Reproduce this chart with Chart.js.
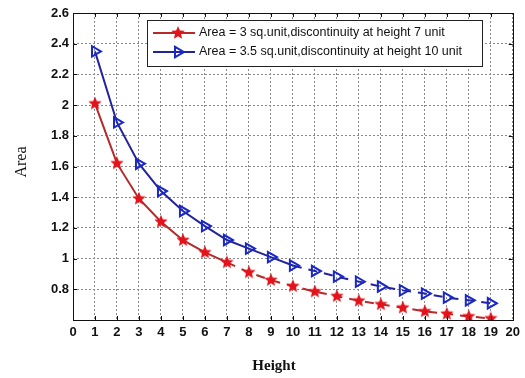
<!DOCTYPE html>
<html>
<head>
<meta charset="utf-8">
<script src="https://cdn.jsdelivr.net/npm/chart.js@4.4.0/dist/chart.umd.min.js"></script>
<style>
	html, body { margin: 0; padding: 0; background: #fff; }
	#wrap { width: 525px; height: 378px; }
</style>
</head>
<body>
<div id="wrap"><canvas id="areaChart" width="525" height="378"></canvas></div>
<script>
const heights = [1, 2, 3, 4, 5, 6, 7, 8, 9, 10, 11, 12, 13, 14, 15, 16, 17, 18, 19];
const area3 = [2.01, 1.62, 1.39, 1.24, 1.12, 1.04, 0.975, 0.91, 0.86, 0.82, 0.785, 0.755, 0.725, 0.702, 0.68, 0.656, 0.64, 0.623, 0.61];
const area35 = [2.35, 1.887, 1.618, 1.44, 1.31, 1.212, 1.121, 1.065, 1.01, 0.955, 0.919, 0.883, 0.85, 0.818, 0.793, 0.772, 0.746, 0.728, 0.709];
const legendLabels = [
	"Area = 3 sq.unit,discontinuity at height 7 unit",
	"Area = 3.5 sq.unit,discontinuity at height 10 unit"
];
const breakAt = [7, 10];

const redLine = "#b52a2a";
const redMark = "#e3121b";
const blueLine = "#23239a";
const blueMark = "#1a28c8";

// filled five point star used as point image
function makeStar(size, color) {
	const c = document.createElement("canvas");
	c.width = size;
	c.height = size;
	const g = c.getContext("2d");
	const cx = size / 2, cy = size / 2, R = size / 2, r = R * 0.45;
	g.beginPath();
	for (let i = 0; i < 10; i++) {
		const rad = i % 2 === 0 ? R : r;
		const a = -Math.PI / 2 + i * Math.PI / 5;
		g.lineTo(cx + rad * Math.cos(a), cy + rad * Math.sin(a));
	}
	g.closePath();
	g.fillStyle = color;
	g.fill();
	return c;
}
const star = makeStar(14, redMark);

function toPoints(values) {
	return heights.map((h, i) => ({ x: h, y: values[i] }));
}

function drawTriangle(ctx, x, y, r) {
	ctx.beginPath();
	ctx.moveTo(x + r, y);
	ctx.lineTo(x - r * 0.5, y - r * 0.87);
	ctx.lineTo(x - r * 0.5, y + r * 0.87);
	ctx.closePath();
	ctx.stroke();
}

// frame, inward ticks, legend and axis titles, matlab style
const decorations = {
	id: "decorations",
	afterDraw(chart) {
		const ctx = chart.ctx;
		const a = chart.chartArea;
		const xs = chart.scales.x;
		const ys = chart.scales.y;

		ctx.save();
		ctx.strokeStyle = "#111";
		ctx.lineWidth = 1;
		ctx.setLineDash([]);
		ctx.strokeRect(Math.round(a.left) + 0.5, Math.round(a.top) + 0.5, Math.round(a.right - a.left), Math.round(a.bottom - a.top));

		ctx.beginPath();
		xs.ticks.forEach(t => {
			const px = Math.round(xs.getPixelForValue(t.value)) + 0.5;
			ctx.moveTo(px, a.bottom); ctx.lineTo(px, a.bottom - 4);
			ctx.moveTo(px, a.top); ctx.lineTo(px, a.top + 4);
		});
		ys.ticks.forEach(t => {
			const py = Math.round(ys.getPixelForValue(t.value)) + 0.5;
			ctx.moveTo(a.left, py); ctx.lineTo(a.left + 4, py);
			ctx.moveTo(a.right, py); ctx.lineTo(a.right - 4, py);
		});
		ctx.stroke();

		// legend box
		const bx = 147, by = 20, bw = 335, bh = 46;
		ctx.fillStyle = "#fff";
		ctx.fillRect(bx, by, bw, bh);
		ctx.strokeStyle = "#222";
		ctx.strokeRect(bx + 0.5, by + 0.5, bw, bh);

		const rows = [by + 13, by + 32];
		ctx.lineWidth = 2;
		ctx.strokeStyle = redLine;
		ctx.beginPath(); ctx.moveTo(153, rows[0]); ctx.lineTo(195, rows[0]); ctx.stroke();
		ctx.drawImage(star, 178 - 7, rows[0] - 7);
		ctx.strokeStyle = blueLine;
		ctx.beginPath(); ctx.moveTo(153, rows[1]); ctx.lineTo(195, rows[1]); ctx.stroke();
		ctx.strokeStyle = blueMark;
		drawTriangle(ctx, 178, rows[1], 6);

		ctx.fillStyle = "#111";
		ctx.font = "12.5px 'Liberation Sans', Arial, sans-serif";
		ctx.textBaseline = "middle";
		ctx.textAlign = "left";
		ctx.fillText(legendLabels[0], 199, rows[0]);
		ctx.fillText(legendLabels[1], 199, rows[1]);

		// axis titles
		ctx.font = "bold 15px 'Liberation Serif', 'Times New Roman', serif";
		ctx.textAlign = "center";
		ctx.fillText("Height", 274, 366);
		ctx.translate(22, 162);
		ctx.rotate(-Math.PI / 2);
		ctx.font = "16px 'Liberation Serif', 'Times New Roman', serif";
		ctx.fillText("Area", 0, 0);
		ctx.restore();
	}
};

const ctx = document.getElementById("areaChart").getContext("2d");
const areaChart = new Chart(ctx, {
	type: "line",
	data: {
		datasets: [{
			label: legendLabels[0],
			data: toPoints(area3),
			borderColor: redLine,
			borderWidth: 2,
			pointStyle: star,
			pointRadius: 7,
			tension: 0,
			segment: {
				borderDash: c => c.p0.parsed.x >= breakAt[0] ? [9, 7] : undefined
			}
		}, {
			label: legendLabels[1],
			data: toPoints(area35),
			borderColor: blueLine,
			borderWidth: 2,
			pointStyle: "triangle",
			rotation: 90,
			pointRadius: 6,
			pointBorderWidth: 2,
			pointBorderColor: blueMark,
			pointBackgroundColor: "rgba(0,0,0,0)",
			tension: 0,
			segment: {
				borderDash: c => c.p0.parsed.x >= breakAt[1] ? [9, 7] : undefined
			}
		}]
	},
	options: {
		responsive: false,
		animation: false,
		layout: { padding: { top: 13, right: 9, left: 0, bottom: 0 } },
		plugins: {
			legend: { display: false },
			tooltip: { enabled: false }
		},
		scales: {
			x: {
				type: "linear",
				min: 0,
				max: 20,
				ticks: {
					stepSize: 1,
					color: "#111",
					padding: 5,
					font: { family: "'Liberation Sans', Arial, sans-serif", size: 13, weight: "bold" }
				},
				grid: { color: "#8a8a8a", drawTicks: false },
				border: { display: false, dash: [2, 2] },
				afterFit: s => { s.height = 58; }
			},
			y: {
				min: 0.6,
				max: 2.6,
				ticks: {
					stepSize: 0.2,
					color: "#111",
					padding: 4,
					font: { family: "'Liberation Sans', Arial, sans-serif", size: 13, weight: "bold" },
					callback: v => Math.abs(v - 0.6) < 1e-6 ? "" : String(Number(v.toFixed(1)))
				},
				grid: { color: "#8a8a8a", drawTicks: false },
				border: { display: false, dash: [2, 2] },
				afterFit: s => { s.width = 73; }
			}
		}
	},
	plugins: [decorations]
});
</script>
</body>
</html>
